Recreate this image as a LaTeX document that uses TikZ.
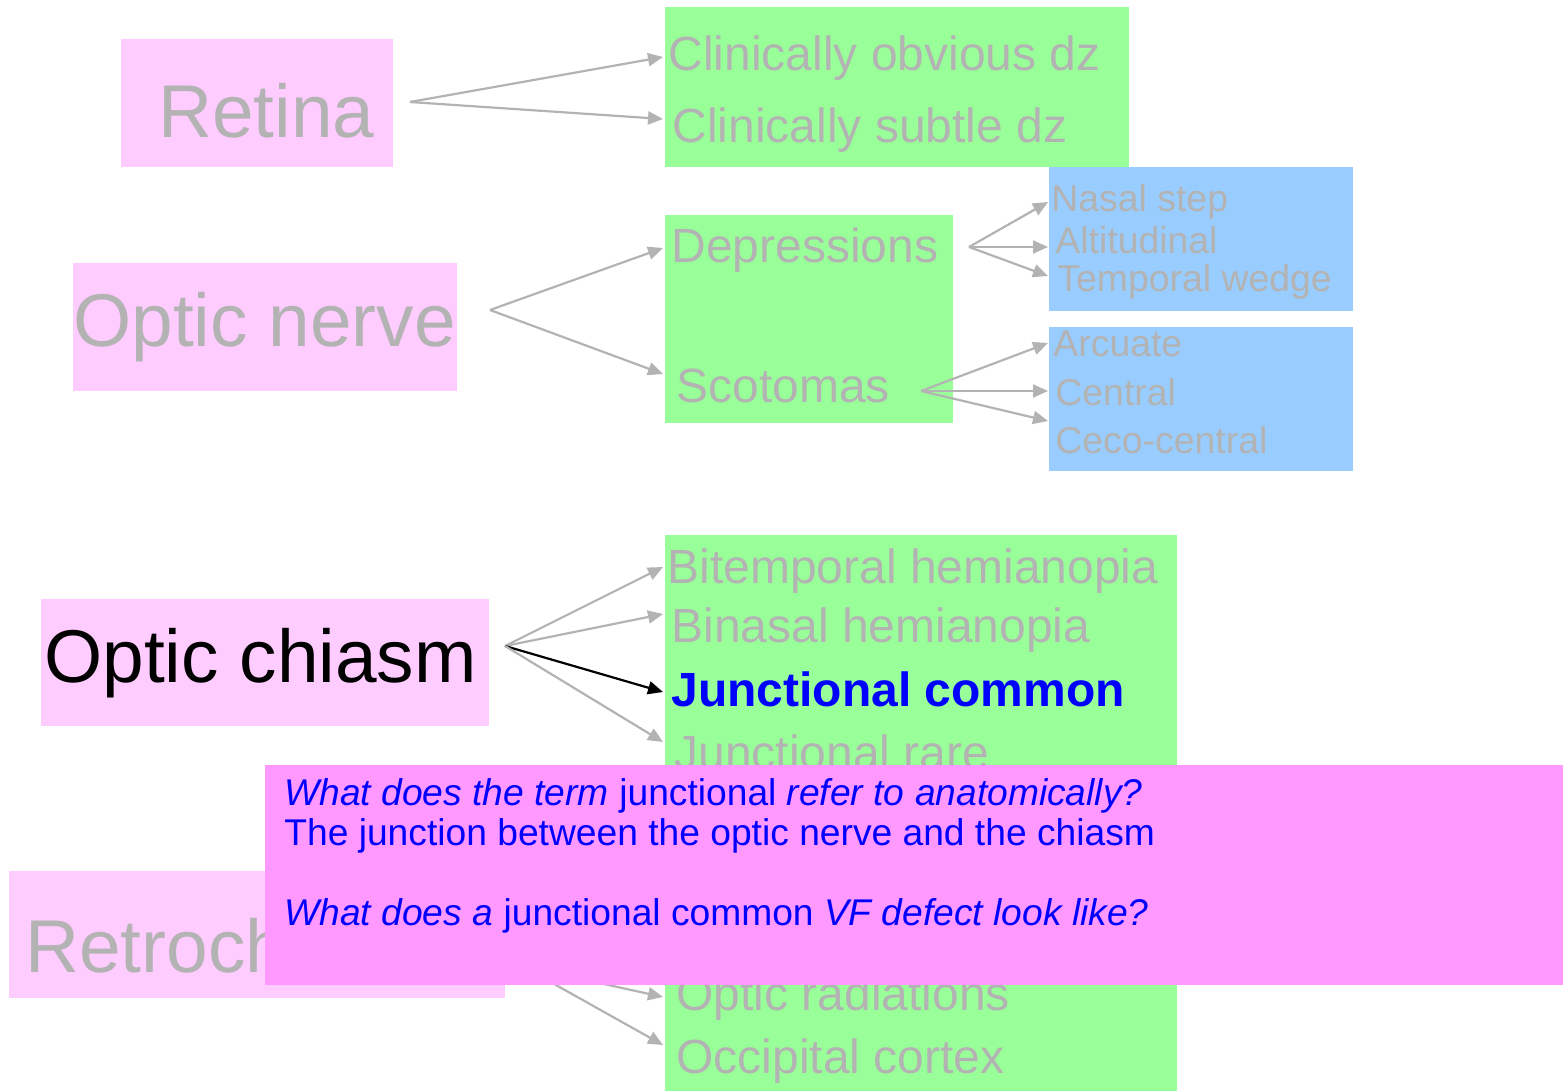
\documentclass[tikz,border=0pt]{standalone}
\usepackage{fontspec}
\setmainfont{Liberation Sans}
\usepackage{xcolor}
\usetikzlibrary{arrows.meta}
\definecolor{fadegray}{HTML}{B3B3B3}
\definecolor{boxpink}{HTML}{FFCCFF}
\definecolor{boxgreen}{HTML}{99FF99}
\definecolor{boxblue}{HTML}{99CCFF}
\definecolor{notepink}{HTML}{FF99FF}
\tikzset{%
	region/.style     = {anchor=base west, inner sep=0pt, text=fadegray, font=\fontsize{37.4}{40}\selectfont},
	finding/.style    = {anchor=base west, inner sep=0pt, text=fadegray, font=\fontsize{24}{28}\selectfont},
	subfinding/.style = {anchor=base west, inner sep=0pt, text=fadegray, font=\fontsize{18.7}{22}\selectfont},
	link/.style       = {draw=fadegray, line width=1.1pt, -{Triangle[length=7.5pt,width=6.5pt,fill=fadegray]}},
}

\begin{document}
\begin{tikzpicture}[x=0.5pt,y=-0.5pt]
	\useasboundingbox (0,0) rectangle (1563,1091);
	
	% coloured panels
	\fill[boxpink]  (121,39) rectangle (393,167);
	\fill[boxgreen] (665,7) rectangle (1129,167);
	\fill[boxpink]  (73,263) rectangle (457,391);
	\fill[boxgreen] (665,215) rectangle (953,423);
	\fill[boxblue]  (1049,167) rectangle (1353,311);
	\fill[boxblue]  (1049,327) rectangle (1353,471);
	\fill[boxpink]  (41,599) rectangle (489,726);
	\fill[boxgreen] (665,535) rectangle (1177,870);
	\fill[boxpink]  (9,871) rectangle (505,998);
	\fill[boxgreen] (665,880) rectangle (1177,1091);
	
	% sites
	\node[region] (retina) at (158,138) {Retina};
	\node[region] (nerve) at (73,346) {Optic nerve};
	\node[region,text=black] (chiasm) at (44,682) {Optic chiasm};
	\node[region] (retro) at (25,972) {Retrochiasmal};
	
	% field defects
	\node[finding] (obvious) at (668,71) {Clinically obvious dz};
	\node[finding] (subtle) at (672,143) {Clinically subtle dz};
	\node[finding] (depr) at (671,263) {Depressions};
	\node[finding] (scot) at (676,402) {Scotomas};
	\node[finding] (bitemp) at (667,583) {Bitemporal hemianopia};
	\node[finding] (binasal) at (671,642) {Binasal hemianopia};
	\node[finding,text=blue,font=\fontsize{24}{28}\selectfont\bfseries] (juncom) at (671,706) {Junctional common};
	\node[finding] (junrare) at (674,769) {Junctional rare};
	\node[finding] (radiat) at (676,1010) {Optic radiations};
	\node[finding] (occip) at (676,1073) {Occipital cortex};
	
	\node[subfinding] (nasal) at (1051,212) {Nasal step};
	\node[subfinding] (altit) at (1055,254) {Altitudinal};
	\node[subfinding] (wedge) at (1057,292) {Temporal wedge};
	\node[subfinding] (arcuate) at (1053,357) {Arcuate};
	\node[subfinding] (central) at (1055,405) {Central};
	\node[subfinding] (ceco) at (1055,453) {Ceco-central};
	
	% fan points
	\coordinate (retinaout) at (410,102);
	\coordinate (nerveout) at (490,310);
	\coordinate (deprout) at (969,247);
	\coordinate (scotout) at (921,391);
	\coordinate (chiasmout) at (505,646);
	\coordinate (retroout) at (522,966);
	
	\draw[link] (retinaout) -- ([shift={(-5,-14)}]obvious.base west);
	\draw[link] (retinaout) -- ([shift={(-9,-24)}]subtle.base west);
	\draw[link] (nerveout) -- ([shift={(-8,-15)}]depr.base west);
	\draw[link] (nerveout) -- ([shift={(-13,-28)}]scot.base west);
	\draw[link] (deprout) -- ([shift={(-3,-10)}]nasal.base west);
	\draw[link] (deprout) -- ([shift={(-7,-7)}]altit.base west);
	\draw[link] (deprout) -- ([shift={(-9,-16)}]wedge.base west);
	\draw[link] (scotout) -- ([shift={(-5,-14)}]arcuate.base west);
	\draw[link] (scotout) -- ([shift={(-7,-14)}]central.base west);
	\draw[link] (scotout) -- ([shift={(-7,-32)}]ceco.base west);
	\draw[link] (chiasmout) -- ([shift={(-4,-16)}]bitemp.base west);
	\draw[link] (chiasmout) -- ([shift={(-8,-28)}]binasal.base west);
	\draw[link,draw=black,-{Triangle[length=7.5pt,width=6.5pt,fill=black]}] (chiasmout) -- ([shift={(-8,-14)}]juncom.base west);
	\draw[link] (chiasmout) -- ([shift={(-11,-27)}]junrare.base west);
	\draw[link] (retroout) -- ([shift={(-13,-13)}]radiat.base west);
	\draw[link] (retroout) -- ([shift={(-13,-28)}]occip.base west);
	
	% question card on top
	\fill[notepink] (265,765) rectangle (1563,985);
	\node[anchor=north west, inner sep=0pt, align=left, text=blue, font=\fontsize{18.6}{20}\selectfont] (card) at (284,777)
		{\rule{0pt}{14pt}\textit{What does the term} junctional \textit{refer to anatomically?}\\
		 The junction between the optic nerve and the chiasm\\[20pt]
		 \textit{What does a} junctional common \textit{VF defect look like?}};
	
\end{tikzpicture}
\end{document}
